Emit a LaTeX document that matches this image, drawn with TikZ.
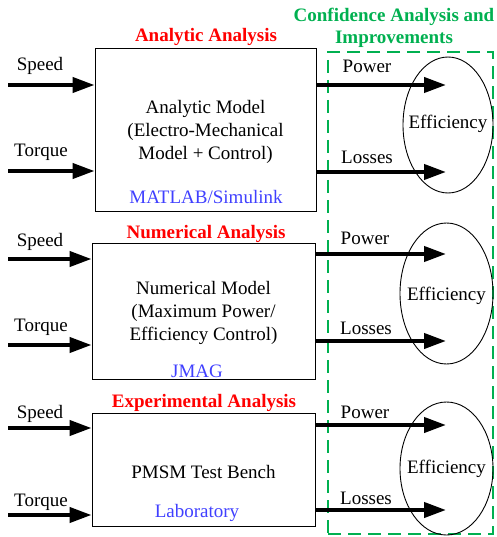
\documentclass[tikz,border=0pt]{standalone}
\usepackage{fontspec}
\setmainfont{Liberation Serif}
\usetikzlibrary{arrows.meta,shapes.geometric}
\definecolor{cgreen}{RGB}{0,176,80}
\definecolor{cblue}{RGB}{64,64,255}
\definecolor{cred}{RGB}{255,0,0}
\begin{document}
\begin{tikzpicture}[x=1pt,y=-1pt,
  font=\fontsize{19}{23}\selectfont,
  model/.style={draw=black,line width=0.9pt,rectangle,inner sep=0},
  effnode/.style={draw=black,line width=0.9pt,ellipse,inner sep=0},
  flow/.style={line width=4pt,-{Triangle[length=22pt,width=15pt]}},
  title/.style={text=cred,font=\fontsize{19}{23}\selectfont\bfseries},
  tool/.style={text=cblue},
  txt/.style={align=center,yshift=-2pt},
  lbl/.style={inner sep=0,yshift=-2pt}
]
\useasboundingbox (0,0) rectangle (496,537);

% confidence box
\node[draw=cgreen,line width=2.6pt,dash pattern=on 13pt off 7pt,rectangle,inner sep=0,
  minimum width=165pt,minimum height=482pt] (conf) at (410.5,293) {};
\node[text=cgreen,font=\fontsize{19}{22}\selectfont\bfseries,align=center,yshift=-1.5pt] (conft) at (394,26)
  {Confidence Analysis and\\Improvements};

% boxes
\node[model,minimum width=221pt,minimum height=163pt] (b1) at (205.5,129.5) {};
\node[model,minimum width=223pt,minimum height=136pt] (b2) at (203.5,311) {};
\node[model,minimum width=223pt,minimum height=113pt] (b3) at (203.5,469.5) {};
\node[txt] (bt1) at (b1.center) {Analytic Model\\(Electro-Mechanical\\Model + Control)};
\node[txt] (bt2) at (b2.center) {Numerical Model\\(Maximum Power/\\Efficiency Control)};
\node[txt] (bt3) at (b3.center) {PMSM Test Bench};

\node[title,yshift=-2pt] (t1) at (206,35) {Analytic Analysis};
\node[title,yshift=-2pt] (t2) at (206,232) {Numerical Analysis};
\node[title,yshift=-2pt] (t3) at (204,401) {Experimental Analysis};

\node[tool,txt] (m1) at (206,195) {MATLAB/Simulink};
\node[tool,txt] (m2) at (197,369) {JMAG};
\node[tool,txt] (m3) at (197,511) {Laboratory};

% ellipses
\node[effnode,minimum width=90pt,minimum height=136pt] (e1) at (448,125) {};
\node[effnode,minimum width=93pt,minimum height=141pt] (e2) at (446.5,293.5) {};
\node[effnode,minimum width=93pt,minimum height=133pt] (e3) at (446.5,468.5) {};
\node[txt] (et1) at (448,122) {Efficiency};
\node[txt] (et2) at (446.5,294) {Efficiency};
\node[txt] (et3) at (446.5,467) {Efficiency};

% input coordinates
\coordinate (s1) at (8,85);  \coordinate (q1) at (8,171);
\coordinate (s2) at (8,259); \coordinate (q2) at (8,345);
\coordinate (s3) at (8,428); \coordinate (q3) at (8,515);
% output end coordinates
\coordinate (p1) at (446,85);  \coordinate (l1) at (446,172);
\coordinate (p2) at (446,254); \coordinate (l2) at (446,341);
\coordinate (p3) at (446,425); \coordinate (l3) at (446,510);

\foreach \i in {1,2,3}{
  \draw[flow] (s\i) -- (s\i -| b\i.west);
  \draw[flow] (q\i) -- (q\i -| b\i.west);
  \draw[flow] (b\i.east |- p\i) -- (p\i);
  \draw[flow] (b\i.east |- l\i) -- (l\i);
}

% labels
\node[lbl] (sp1) at (40,64) {Speed};
\node[lbl] (tq1) at (41,150) {Torque};
\node[lbl] (sp2) at (40,240) {Speed};
\node[lbl] (tq2) at (41,325) {Torque};
\node[lbl] (sp3) at (40,412) {Speed};
\node[lbl] (tq3) at (41,500) {Torque};
\node[lbl] (pw1) at (367,64) {Power};
\node[lbl] (ls1) at (367,155) {Losses};
\node[lbl] (pw2) at (365,236) {Power};
\node[lbl] (ls2) at (366,326) {Losses};
\node[lbl] (pw3) at (365,410) {Power};
\node[lbl] (ls3) at (366,496) {Losses};
\end{tikzpicture}
\end{document}
